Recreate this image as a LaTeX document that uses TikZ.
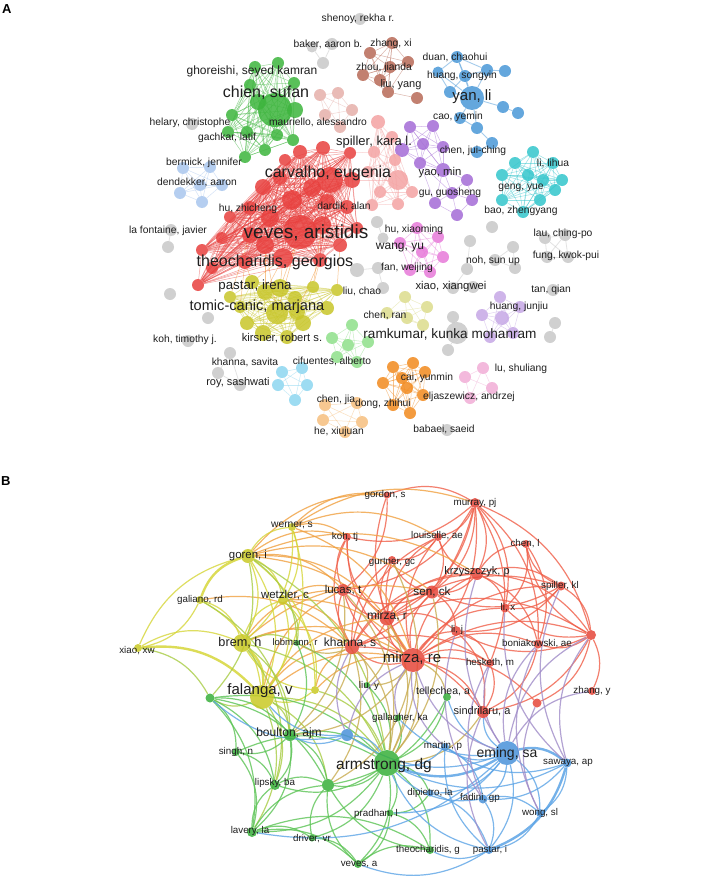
\documentclass[tikz,border=0pt]{standalone}
\usepackage{fontspec}
\setmainfont{Liberation Sans}
\pgfdeclarelayer{bg}
\pgfsetlayers{bg,main}
\definecolor{cR}{HTML}{E8403E}
\definecolor{cG}{HTML}{3DB53D}
\definecolor{cB}{HTML}{4A98D8}
\definecolor{cP}{HTML}{A46CD6}
\definecolor{cC}{HTML}{33C6CC}
\definecolor{cBr}{HTML}{B86A58}
\definecolor{cRo}{HTML}{E6B0AA}
\definecolor{cPk}{HTML}{F4A3A3}
\definecolor{cLB}{HTML}{A9C6EE}
\definecolor{cMg}{HTML}{E77AD9}
\definecolor{cY}{HTML}{C8C62A}
\definecolor{cKh}{HTML}{DCDC8C}
\definecolor{cLG}{HTML}{8FE08A}
\definecolor{cLC}{HTML}{8DD6F0}
\definecolor{cO}{HTML}{F28A1E}
\definecolor{cPe}{HTML}{F6BF7E}
\definecolor{cLP}{HTML}{C6A8E6}
\definecolor{cPi}{HTML}{F2ADD6}
\definecolor{cGr}{HTML}{C8C8C8}
\definecolor{bR}{HTML}{E6473A}
\definecolor{bY}{HTML}{C9C925}
\definecolor{bG}{HTML}{38B03A}
\definecolor{bB}{HTML}{4A92DA}
\definecolor{eRc}{HTML}{F0604A}
\definecolor{eOc}{HTML}{F0A040}
\definecolor{eYc}{HTML}{D6D63A}
\definecolor{eYGc}{HTML}{A8CC44}
\definecolor{eGc}{HTML}{5CC455}
\definecolor{eBc}{HTML}{5CA4E6}
\definecolor{eRGc}{HTML}{C8AC50}
\definecolor{eBRc}{HTML}{A08CC8}
\newcommand\fullgr[3]{\foreach \ii in {1,...,#2}{\foreach \jj in {1,...,#2}{\ifnum\ii<\jj\relax\draw[#3] (#1\ii) -- (#1\jj);\fi}}}
\tikzset{
  nd/.style={circle,inner sep=0pt,draw=none,fill=#1,fill opacity=0.85},
  lbl/.style={inner sep=0pt,text=black!88,font=\fontsize{#1}{#1}\selectfont},
  ea/.style={draw=#1,line width=0.5pt,opacity=0.5},
  eb/.style={draw=#1,line width=1.2pt,opacity=0.8},
  ebt/.style={draw=#1,line width=2.4pt,opacity=0.85},
  bnd/.style={bend left=26},
}
\begin{document}
\begin{tikzpicture}[x=1pt,y=-1pt]
\useasboundingbox (0,0) rectangle (703,880);
\begin{pgfonlayer}{bg}
\fill[white] (0,0) rectangle (703,880);
\end{pgfonlayer}
\node[font=\bfseries\fontsize{13}{13}\selectfont,anchor=west,inner sep=0pt] (pA) at (2,9) {A};
\node[font=\bfseries\fontsize{13}{13}\selectfont,anchor=west,inner sep=0pt] (pB) at (1,481) {B};

% ================= PANEL A nodes =================
\foreach \n/\x/\y/\s in {1/330/180/26,2/300/232/34,3/283/258/20,4/300/152/14,5/323/148/14,6/350/153/12,7/263/187/16,8/280/178/14,9/327/202/16,10/347/207/14,11/230/217/12,12/250/208/14,13/222/238/12,14/202/250/12,15/198/285/12,16/212/268/12,17/250/235/16,18/270/218/18,19/322/225/18,20/340/245/14,21/357/228/12,22/292/200/20,23/312/188/18,24/245/262/14,25/320/260/14,26/265/245/18,27/352/180/16,28/285/160/12}
  \node[nd=cR,minimum size=\s] (r\n) at (\x,\y) {};
\foreach \n/\x/\y/\s in {1/230/297/12,2/252/282/14,3/265/292/16,4/280/288/18,5/295/298/14,6/313/287/12,7/337/290/12,8/327/308/14,9/303/323/16,10/287/337/14,11/263/333/16,12/247/323/14,13/240/307/12,14/277/313/22,15/297/312/16}
  \node[nd=cY,minimum size=\s] (y\n) at (\x,\y) {};
\foreach \n/\x/\y/\s in {1/255/67/12,2/278/63/12,3/294/83/12,4/250/85/12,5/275/110/34,6/258/102/16,7/232/115/12,8/228/132/12,9/247/132/12,10/277/135/12,11/265/150/12,12/245/157/12,13/295/110/16,14/293/140/12}
  \node[nd=cG,minimum size=\s] (g\n) at (\x,\y) {};
\foreach \n/\x/\y/\s in {1/472/98/24,2/457/57/12,3/438/72/11,4/450/92/12,5/487/70/12,6/505/71/12,7/465/76/12,8/503/107/12,9/518/113/12,10/460/118/12,11/477/128/12,12/492/143/12,13/477/152/12}
  \node[nd=cB,minimum size=\s] (b\n) at (\x,\y) {};
\foreach \n/\x/\y/\s in {1/410/127/12,2/433/126/12,3/402/150/14,4/423/144/12,5/443/147/12,6/420/163/12,7/443/170/14,8/467/180/12,9/452/193/12,10/435/203/12,11/457/215/12,12/472/200/12}
  \node[nd=cP,minimum size=\s] (p\n) at (\x,\y) {};
\foreach \n/\x/\y in {1/533/152,2/515/163,3/502/175,4/553/163,5/562/180,6/555/190,7/540/200,8/523/212,9/502/200,10/528/175,11/543/180}
  \node[nd=cC,minimum size=12] (c\n) at (\x,\y) {};
\foreach \n/\x/\y in {1/370/53,2/392/43,3/408/62,4/363/75,5/380/80,6/390/67,7/388/92,8/417/98}
  \node[nd=cBr,minimum size=12] (w\n) at (\x,\y) {};
\foreach \n/\x/\y in {1/320/95,2/338/93,3/352/110,4/340/127,5/325/115}
  \node[nd=cRo,minimum size=12] (o\n) at (\x,\y) {};
\foreach \n/\x/\y/\s in {1/378/122/14,2/392/137/12,3/374/152/12,4/395/160/12,5/368/172/12,6/398/180/20,7/380/192/12,8/412/192/12,9/398/204/12,10/372/205/12}
  \node[nd=cPk,minimum size=\s] (k\n) at (\x,\y) {};
\foreach \n/\x/\y in {1/183/168,2/180/193,3/202/202,4/222/185,5/210/167,6/200/185}
  \node[nd=cLB,minimum size=12] (l\n) at (\x,\y) {};
\foreach \n/\x/\y in {1/417/228,2/438/237,3/400/243,4/422/252,5/443/257,6/430/272,7/410/270}
  \node[nd=cMg,minimum size=12] (m\n) at (\x,\y) {};
\foreach \n/\x/\y in {1/405/297,2/427/307,3/423/325,4/387/313,5/407/318}
  \node[nd=cKh,minimum size=12] (h\n) at (\x,\y) {};
\foreach \n/\x/\y in {1/352/325,2/332/338,3/348/345,4/368/342,5/357/362,6/337/357}
  \node[nd=cLG,minimum size=12] (n\n) at (\x,\y) {};
\foreach \n/\x/\y in {1/282/372,2/302/368,3/307/385,4/295/400,5/278/385}
  \node[nd=cLC,minimum size=12] (q\n) at (\x,\y) {};
\foreach \n/\x/\y in {1/325/405,2/357/403,3/362/422,4/345/432,5/323/420}
  \node[nd=cPe,minimum size=12] (e\n) at (\x,\y) {};
\foreach \n/\x/\y in {1/393/367,2/413/363,3/425/372,4/402/378,5/383/383,6/407/388,7/423/395,8/410/413,9/393/405}
  \node[nd=cO,minimum size=12] (a\n) at (\x,\y) {};
\foreach \n/\x/\y/\s in {1/500/297/12,2/482/315/12,3/502/318/14,4/520/307/12,5/490/337/12,6/513/333/12}
  \node[nd=cLP,minimum size=\s] (j\n) at (\x,\y) {};
\foreach \n/\x/\y in {1/483/368,2/465/377,3/492/388,4/470/398}
  \node[nd=cPi,minimum size=12] (u\n) at (\x,\y) {};
\foreach \n/\x/\y/\s in {1/360/19/12,2/332/44/12,3/312/47/11,4/323/63/12,5/192/124/12,6/171/230/12,7/168/247/12,8/170/294/12,9/208/318/12,10/188/341/12,11/230/353/12,12/218/373/12,13/240/385/12,14/377/222/12,15/383/238/11,16/357/270/14,17/378/268/12,18/383/288/12,19/470/241/12,20/492/227/12,21/495/260/12,22/513/247/12,23/515/268/12,24/467/269/12,25/453/288/12,26/473/287/12,27/545/238/12,28/565/235/12,29/547/257/12,30/568/257/12,31/553/290/12,32/555/323/12,33/550/337/12,34/453/317/12,35/457/333/22,36/448/350/12,37/447/430/12}
  \node[nd=cGr,minimum size=\s] (z\n) at (\x,\y) {};

% ================= PANEL A edges =================
\begin{pgfonlayer}{bg}
\fullgr{r}{28}{ea=cR}
\fullgr{y}{15}{ea=cY}
\fullgr{g}{14}{ea=cG}
\foreach \a/\b in {1/2,1/3,1/4,1/5,1/7,1/8,1/10,1/11,2/3,2/7,2/5,3/4,4/7,5/6,8/9,11/12,12/13,10/11,5/7}
  \draw[ea=cB,line width=0.9pt] (b\a) -- (b\b);
\fullgr{p}{7}{ea=cP}
\foreach \a/\b in {7/8,7/9,7/10,8/9,9/10,9/11,10/11,11/12,8/12,9/12,6/10,6/9}
  \draw[ea=cP] (p\a) -- (p\b);
\fullgr{c}{11}{ea=cC}
\fullgr{w}{7}{ea=cBr}
\draw[ea=cBr] (w7) -- (w8);
\fullgr{o}{5}{ea=cRo}
\fullgr{k}{10}{ea=cPk}
\fullgr{l}{6}{ea=cLB}
\fullgr{m}{7}{ea=cMg}
\fullgr{h}{5}{ea=cKh}
\fullgr{n}{6}{ea=cLG}
\fullgr{q}{5}{ea=cLC}
\fullgr{e}{5}{ea=cPe}
\fullgr{a}{9}{ea=cO}
\fullgr{j}{6}{ea=cLP}
\fullgr{u}{4}{ea=cPi}
\foreach \a/\b in {2/4,3/4,6/7,11/12,11/13,12/13,14/15,16/17,17/18,19/24,21/22,21/23,22/23,24/25,25/26,27/28,27/29,28/30,29/30,27/30,28/29,32/33,34/35,35/36}
  \draw[ea=cGr,line width=0.8pt] (z\a) -- (z\b);
\foreach \a/\b in {3/4,3/3,24/2,25/6,26/3,2/14,17/1,19/6,20/7,3/2,25/15,2/4,26/14,24/13}
  \draw[ea=cO] (r\a) -- (y\b);
\foreach \a/\b in {27/6,1/4,6/3,27/5}
  \draw[ea=cPk] (r\a) -- (k\b);
\end{pgfonlayer}

% ================= PANEL A labels =================
\node[lbl=10.3] (tA1) at (358,19) {shenoy, rekha r.};
\node[lbl=10.3] (tA2) at (328,44) {baker, aaron b.};
\node[lbl=10.3] (tA3) at (391,44) {zhang, xi};
\node[lbl=10.3] (tA4) at (384,68) {zhou, jianda};
\node[lbl=11] (tA5) at (401,85) {liu, yang};
\node[lbl=10.3] (tA6) at (455,57) {duan, chaohui};
\node[lbl=10.3] (tA7) at (462,76) {huang, songyin};
\node[lbl=15] (tA8) at (472,97) {yan, li};
\node[lbl=12] (tA9) at (252,71) {ghoreishi, seyed kamran};
\node[lbl=16] (tA10) at (266,93) {chien, sufan};
\node[lbl=10.3] (tA11) at (190,123) {helary, christophe};
\node[lbl=10.3] (tA12) at (318,122) {mauriello, alessandro};
\node[lbl=10.3] (tA13) at (227,138) {gachkar, latif};
\node[lbl=13] (tA14) at (374,142) {spiller, kara l.};
\node[lbl=10.3] (tA15) at (458,117) {cao, yemin};
\node[lbl=10.3] (tA16) at (473,151) {chen, jui-ching};
\node[lbl=10.3] (tA17) at (204,163) {bermick, jennifer};
\node[lbl=11.3] (tA18) at (440,173) {yao, min};
\node[lbl=10.3] (tA19) at (553,163) {li, lihua};
\node[lbl=16] (tA20) at (328,173) {carvalho, eugenia};
\node[lbl=10.3] (tA21) at (197,182) {dendekker, aaron};
\node[lbl=10.3] (tA22) at (450,193) {gu, guosheng};
\node[lbl=10.3] (tA23) at (521,188) {geng, yue};
\node[lbl=10.3] (tA24) at (344,206) {dardik, alan};
\node[lbl=10.3] (tA25) at (248,209) {hu, zhicheng};
\node[lbl=10.3] (tA26) at (521,211) {bao, zhengyang};
\node[lbl=10.3] (tA27) at (414,230) {hu, xiaoming};
\node[lbl=10.3] (tA28) at (168,231) {la fontaine, javier};
\node[lbl=19] (tA29) at (306,233) {veves, aristidis};
\node[lbl=10.3] (tA30) at (563,234) {lau, ching-po};
\node[lbl=12] (tA31) at (400,248) {wang, yu};
\node[lbl=10.3] (tA32) at (566,256) {fung, kwok-pui};
\node[lbl=10.3] (tA33) at (493,261) {noh, sun up};
\node[lbl=16] (tA34) at (275,262) {theocharidis, georgios};
\node[lbl=10.3] (tA35) at (407,268) {fan, weijing};
\node[lbl=13.3] (tA36) at (255,286) {pastar, irena};
\node[lbl=11.3] (tA37) at (451,287) {xiao, xiangwei};
\node[lbl=10.3] (tA38) at (551,290) {tan, qian};
\node[lbl=10.3] (tA39) at (362,291) {liu, chao};
\node[lbl=14.6] (tA40) at (257,307) {tomic-canic, marjana};
\node[lbl=10.3] (tA41) at (519,307) {huang, junjiu};
\node[lbl=10.3] (tA42) at (385,315) {chen, ran};
\node[lbl=13.6] (tA43) at (450,334) {ramkumar, kunka mohanram};
\node[lbl=11.2] (tA44) at (282,338) {kirsner, robert s.};
\node[lbl=10.3] (tA45) at (185,340) {koh, timothy j.};
\node[lbl=10.3] (tA46) at (332,361) {cifuentes, alberto};
\node[lbl=10.3] (tA47) at (245,362) {khanna, savita};
\node[lbl=10.3] (tA48) at (521,369) {lu, shuliang};
\node[lbl=10.3] (tA49) at (427,378) {cai, yunmin};
\node[lbl=11] (tA50) at (238,383) {roy, sashwati};
\node[lbl=10.3] (tA51) at (469,397) {eljaszewicz, andrzej};
\node[lbl=10.3] (tA52) at (336,400) {chen, jia};
\node[lbl=10.3] (tA53) at (383,404) {dong, zhihui};
\node[lbl=10.3] (tA54) at (339,432) {he, xiujuan};
\node[lbl=10.3] (tA55) at (444,429) {babaei, saeid};

% ================= PANEL B nodes =================
\foreach \n/\x/\y/\s/\c in {gordon/387/495/7/bR,murray/475/503/10/bR,werner/292/527/8/bY,kohtj/347/537/8/bR,louis/438/537/8/bR,chenl/526/544/8/bR,goren/248/556/14/bY,gurt/392/560/8/bR,krzy/477/574/12/bR,spill/561/586/9/bR,sen/432/592/13/bR,lucas/343/590/12/bR,wetz/283/600/10/bY,gali/200/600/8/bY,lix/505/608/9/bR,mirzar/387/618/15/bR,lij/456/631/10/bR,r1/591/635/10/bR,brem/242/643/18/bY,lob/297/643/6/bG,khanna/352/647/14/bR,boni/538/644/9/bR,xiao/138/648/8/bY,mirzare/413/660/24/bR,hesk/490/663/8/bR,liuy/367/685/6/bG,fal/262/697/24/bY,g2/210/698/9/bG,y2/315/690/8/bY,tell/447/697/8/bG,zhang/592/691/8/bR,r2/537/703/9/bR,sind/483/712/12/bR,gall/398/718/7/bG,bnode/347/735/12/bB,boul/290/735/12/bG,martin/445/747/8/bB,singh/236/752/8/bG,eming/507/753/24/bB,arm/387/763/26/bG,sawaya/567/763/9/bB,lipsky/275/785/10/bG,g3/328/785/12/bG,dipi/430/793/7/bB,fadini/483/799/9/bB,wong/540/813/8/bB,prad/390/813/7/bG,lavery/252/832/10/bG,driver/312/838/7/bG,theog/430/850/8/bG,pastar/489/850/8/bB,veves/358/864/8/bG}
  \node[nd=\c,minimum size=\s] (B\n) at (\x,\y) {};

% ================= PANEL B edges =================
\begin{pgfonlayer}{bg}
\foreach \a/\b in {murray/mirzar,murray/mirzare,murray/krzy,murray/sen,murray/louis,murray/lucas,murray/kohtj,murray/boni,murray/hesk,murray/r1,murray/khanna,murray/lix,mirzare/mirzar,mirzare/khanna,mirzare/lucas,mirzare/sen,mirzare/krzy,mirzare/lij,mirzare/lix,mirzare/boni,mirzare/hesk,mirzare/sind,mirzare/r2,mirzare/r1,mirzare/spill,mirzare/louis,mirzare/gurt,mirzare/kohtj,mirzare/gordon,mirzar/khanna,mirzar/lucas,mirzar/sen,mirzar/krzy,mirzar/louis,mirzar/gurt,mirzar/kohtj,mirzar/lij,mirzar/spill,mirzar/r1,khanna/lucas,khanna/sen,khanna/kohtj,khanna/gurt,khanna/louis,khanna/krzy,khanna/sind,khanna/hesk,krzy/spill,krzy/r1,krzy/lix,krzy/sen,krzy/chenl,krzy/louis,krzy/boni,spill/r1,spill/lij,spill/sen,spill/lix,spill/chenl,r1/boni,r1/lij,r1/lix,r1/sind,r1/r2,r1/chenl,r1/zhang,sen/lij,sen/lucas,sen/gurt,chenl/lix,chenl/boni,gordon/lucas,gordon/murray,lucas/kohtj,louis/gurt,louis/sen,hesk/sind,boni/sind,lij/hesk,lij/sind}
  \draw[eb=eRc] (B\a) to[bnd] (B\b);
\foreach \a/\b in {goren/mirzar,goren/lucas,goren/kohtj,goren/mirzare,werner/kohtj,werner/mirzare,werner/murray,brem/khanna,brem/mirzare,fal/mirzare,fal/khanna,fal/lucas,wetz/khanna,wetz/mirzare,gali/khanna,brem/lucas,goren/gordon,werner/gordon,goren/sen,wetz/lucas,fal/mirzar,brem/sen,goren/krzy,y2/khanna,y2/mirzare,werner/louis}
  \draw[eb=eOc] (B\a) to[bnd] (B\b);
\foreach \a/\b in {goren/werner,goren/wetz,goren/brem,goren/fal,werner/wetz,werner/brem,werner/fal,gali/xiao,gali/brem,gali/fal,xiao/brem,brem/wetz,wetz/fal,y2/fal,y2/brem,goren/y2,wetz/y2,xiao/goren}
  \draw[eb=eYc] (B\a) to[bnd] (B\b);
\foreach \a/\b in {xiao/fal,brem/fal,gali/goren}
  \draw[ebt=eYc] (B\a) to[bnd] (B\b);
\foreach \a/\b in {fal/boul,fal/arm,brem/arm,brem/lob,goren/lob,gali/boul,fal/lipsky,goren/arm,xiao/g2,fal/g2,brem/boul,wetz/lob,fal/g3,brem/lipsky,goren/g2,fal/lavery,y2/arm}
  \draw[eb=eYGc] (B\a) to[bnd] (B\b);
\foreach \a/\b in {g2/boul,g2/singh,g2/lipsky,g2/arm,g2/lavery,boul/arm,boul/lipsky,boul/lavery,boul/singh,arm/lipsky,arm/lavery,arm/driver,arm/veves,arm/theog,arm/prad,arm/dipi,arm/g3,lavery/lipsky,lavery/driver,lavery/veves,lavery/g3,lipsky/g3,veves/theog,veves/g3,driver/g3,singh/lipsky,singh/arm,theog/g3,lob/arm,liuy/arm,tell/arm,gall/arm,dipi/prad,prad/theog,lavery/theog,boul/g3,g2/g3,lob/boul,tell/g3,singh/lavery,driver/veves,prad/veves}
  \draw[eb=eGc] (B\a) to[bnd] (B\b);
\foreach \a/\b in {mirzare/arm,khanna/arm,mirzar/arm,lucas/arm,mirzare/boul,khanna/boul,khanna/lob,mirzare/tell,mirzar/liuy,sen/arm,khanna/g3,mirzare/g3,mirzare/liuy,khanna/liuy,sind/arm,gurt/arm,lucas/boul}
  \draw[eb=eRGc] (B\a) to[bnd] (B\b);
\foreach \a/\b in {eming/martin,eming/fadini,eming/wong,eming/pastar,eming/bnode,eming/dipi,sawaya/wong,sawaya/fadini,fadini/pastar,fadini/wong,wong/pastar,pastar/martin,pastar/arm,pastar/theog,bnode/arm,bnode/boul,bnode/fal,martin/arm,eming/sind,eming/tell,sawaya/arm,pastar/veves,eming/lavery,eming/gall,fadini/arm,bnode/g2,martin/fadini,dipi/pastar,eming/prad,sawaya/martin}
  \draw[eb=eBc] (B\a) to[bnd] (B\b);
\foreach \a/\b in {eming/sawaya,sawaya/pastar,eming/arm}
  \draw[ebt=eBc] (B\a) to[bnd] (B\b);
\foreach \a/\b in {eming/zhang,eming/r1,eming/boni,sawaya/r1,sawaya/spill,wong/r2,fadini/hesk,eming/hesk,eming/mirzare,martin/mirzare,gall/mirzare,pastar/sind,wong/boni,sawaya/lix,eming/krzy,bnode/mirzare,bnode/khanna,fadini/lij}
  \draw[eb=eBRc] (B\a) to[bnd] (B\b);
\end{pgfonlayer}

% ================= PANEL B labels =================
\node[lbl=9.8] (tB1) at (385,495) {gordon, s};
\node[lbl=9.8] (tB2) at (475,503) {murray, pj};
\node[lbl=10.3] (tB3) at (292,525) {werner, s};
\node[lbl=9.8] (tB4) at (345,537) {koh, tj};
\node[lbl=9.8] (tB5) at (437,536) {louiselle, ae};
\node[lbl=9.8] (tB6) at (525,544) {chen, l};
\node[lbl=11.4] (tB7) at (248,556) {goren, i};
\node[lbl=9.8] (tB8) at (392,562) {gurtner, gc};
\node[lbl=11] (tB9) at (477,572) {krzyszczyk, p};
\node[lbl=9.8] (tB10) at (560,586) {spiller, kl};
\node[lbl=11.7] (tB11) at (432,592) {sen, ck};
\node[lbl=11.5] (tB12) at (343,590) {lucas, t};
\node[lbl=11.5] (tB13) at (285,595) {wetzler, c};
\node[lbl=9.8] (tB14) at (200,600) {galiano, rd};
\node[lbl=9.8] (tB15) at (508,608) {li, x};
\node[lbl=12] (tB16) at (387,616) {mirza, r};
\node[lbl=9.8] (tB17) at (457,630) {li, j};
\node[lbl=12.7] (tB18) at (240,643) {brem, h};
\node[lbl=9.5] (tB19) at (295,643) {lobmann, r};
\node[lbl=12] (tB20) at (350,643) {khanna, s};
\node[lbl=9.8] (tB21) at (537,644) {boniakowski, ae};
\node[lbl=9.8] (tB22) at (137,651) {xiao, xw};
\node[lbl=15] (tB23) at (412,658) {mirza, re};
\node[lbl=9.8] (tB24) at (490,663) {hesketh, m};
\node[lbl=9.8] (tB25) at (369,686) {liu, y};
\node[lbl=15] (tB26) at (260,691) {falanga, v};
\node[lbl=10.5] (tB27) at (443,691) {tellechea, a};
\node[lbl=9.8] (tB28) at (592,691) {zhang, y};
\node[lbl=11] (tB29) at (482,711) {sindrilaru, a};
\node[lbl=9.8] (tB30) at (400,718) {gallagher, ka};
\node[lbl=12] (tB31) at (289,733) {boulton, ajm};
\node[lbl=9.8] (tB32) at (236,752) {singh, n};
\node[lbl=9.8] (tB33) at (443,746) {martin, p};
\node[lbl=14] (tB34) at (507,754) {eming, sa};
\node[lbl=15.5] (tB35) at (384,765) {armstrong, dg};
\node[lbl=9.8] (tB36) at (568,763) {sawaya, ap};
\node[lbl=9.8] (tB37) at (275,783) {lipsky, ba};
\node[lbl=9.8] (tB38) at (430,793) {dipietro, la};
\node[lbl=9.8] (tB39) at (480,798) {fadini, gp};
\node[lbl=9.8] (tB40) at (540,813) {wong, sl};
\node[lbl=9.8] (tB41) at (376,814) {pradhan, l};
\node[lbl=9.8] (tB42) at (250,831) {lavery, la};
\node[lbl=9.8] (tB43) at (312,839) {driver, vr};
\node[lbl=9.8] (tB44) at (428,850) {theocharidis, g};
\node[lbl=9.8] (tB45) at (490,850) {pastar, i};
\node[lbl=9.8] (tB46) at (359,864) {veves, a};
\end{tikzpicture}
\end{document}
